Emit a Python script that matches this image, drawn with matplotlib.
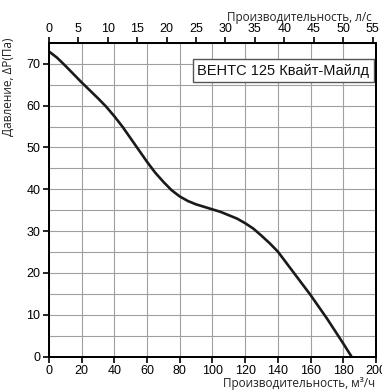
import matplotlib
matplotlib.use("Agg")
import matplotlib.pyplot as plt
from matplotlib.ticker import MultipleLocator

# Data
flow_m3h = [0, 5, 10, 15, 20, 25, 30, 35, 40, 45, 50, 55, 60, 65, 70, 75, 80, 85, 90, 95,
            100, 105, 110, 115, 120, 125, 130, 135, 140, 145, 150, 155, 160, 165, 170, 175, 180, 185]
pressure_pa = [73.0, 71.5, 69.6, 67.6, 65.6, 63.7, 61.8, 59.8, 57.5, 55.0, 52.2, 49.4, 46.6, 44.0,
               41.8, 39.8, 38.3, 37.2, 36.4, 35.8, 35.2, 34.6, 33.8, 33.0, 31.9, 30.6, 28.9, 27.1,
               25.1, 22.5, 19.9, 17.3, 14.7, 11.9, 9.1, 6.1, 3.1, 0.0]

x_ticks = [0, 20, 40, 60, 80, 100, 120, 140, 160, 180, 200]
y_ticks = [0, 10, 20, 30, 40, 50, 60, 70]
top_ticks = [0, 5, 10, 15, 20, 25, 30, 35, 40, 45, 50, 55]

title_box = "ВЕНТС 125 Квайт-Майлд"
xlabel_bottom = "Производительность, м³/ч"
xlabel_top = "Производительность, л/с"
ylabel = "Давление, ΔP(Па)"

W, H = 382, 392
fig = plt.figure(figsize=(W / 100, H / 100), dpi=100)
ax = fig.add_axes([48.8 / W, 1 - 356.5 / H, (376 - 48.8) / W, (356.5 - 43) / H])

tick_font = "Liberation Sans"
label_font = "Open Sans"

ax.set_xlim(0, 200)
ax.set_ylim(0, 75)
ax.set_xticks(x_ticks)
ax.set_yticks(y_ticks)
ax.yaxis.set_minor_locator(MultipleLocator(5))
ax.grid(True, which="major", axis="x", color="#a0a0a0", linewidth=0.8)
ax.grid(True, which="both", axis="y", color="#a0a0a0", linewidth=0.8)
ax.tick_params(which="minor", length=0)
ax.tick_params(which="major", direction="out", length=4, width=1.2, labelsize=9, pad=2, colors="black")
for lab in ax.get_xticklabels() + ax.get_yticklabels():
    lab.set_fontfamily(tick_font)
for s in ax.spines.values():
    s.set_linewidth(1.4)
ax.set_axisbelow(True)

ax.plot(flow_m3h, pressure_pa, color="#1a1a1a", linewidth=1.9, solid_capstyle="round",
        solid_joinstyle="round", zorder=5)

# top axis in l/s
ax2 = ax.twiny()
ax2.set_xlim(0, 200 / 3.6)
ax2.set_xticks(top_ticks)
ax2.tick_params(direction="out", length=4, width=1.2, labelsize=9, pad=2)
for lab in ax2.get_xticklabels():
    lab.set_fontfamily(tick_font)
for s in ax2.spines.values():
    s.set_linewidth(1.4)

# labels
fig.text(375 / W, 1 - 383 / H, xlabel_bottom, ha="right", va="center", fontsize=8.5,
         family=label_font, color="#222222")
fig.text(372 / W, 1 - 17 / H, xlabel_top, ha="right", va="center", fontsize=8.5,
         family=label_font, color="#222222")
fig.text(8 / W, 1 - 38 / H, ylabel, ha="center", va="top", rotation=90, fontsize=8.5,
         family=label_font, color="#222222")

# title box
ax.text(0.979, 0.934, title_box, transform=ax.transAxes, ha="right", va="top",
        fontsize=10.5, family=tick_font, color="#111111", zorder=6,
        bbox=dict(boxstyle="square,pad=0.3", facecolor="white", edgecolor="#555555", linewidth=1.0))

fig.savefig("out.png", dpi=100)
